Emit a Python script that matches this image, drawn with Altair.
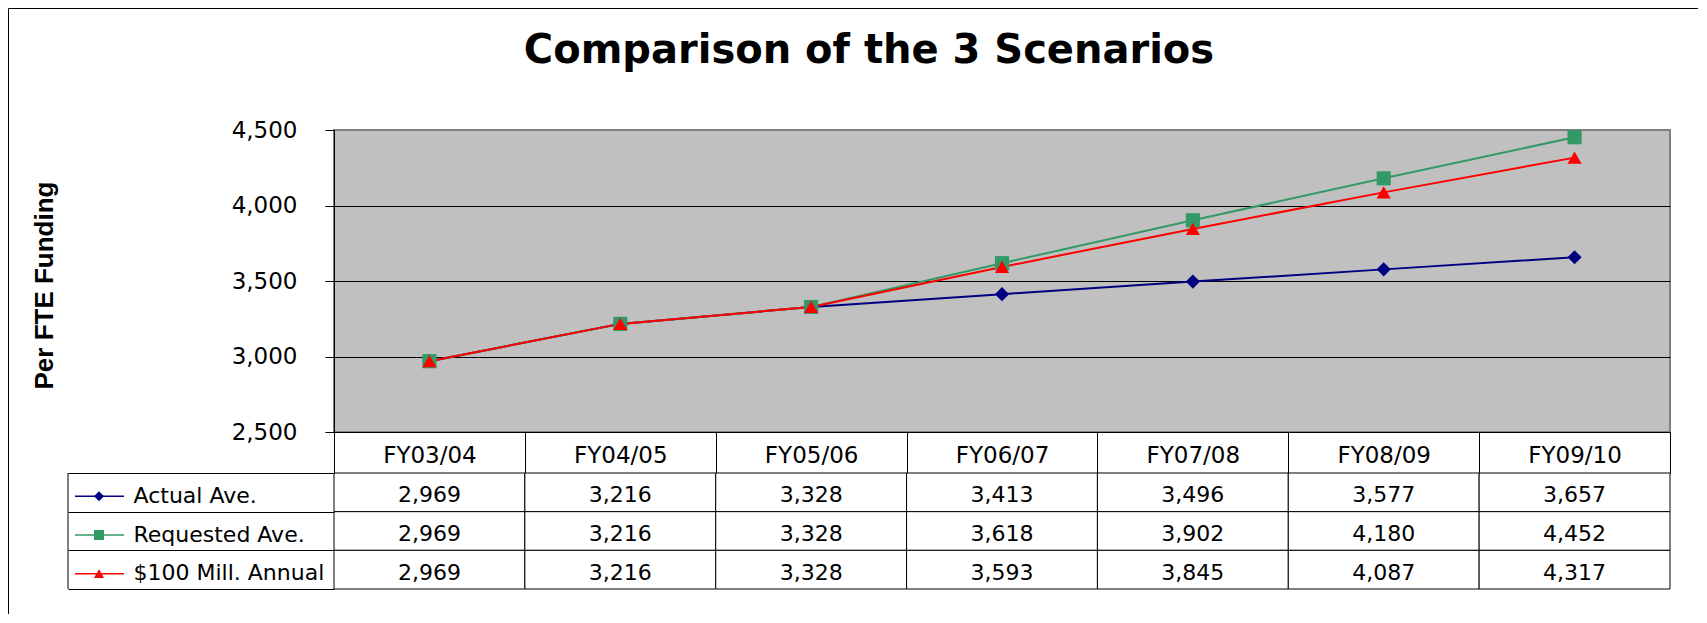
import altair as alt
import pandas as pd

# ---------------- data ----------------
CATEGORIES = ["FY03/04", "FY04/05", "FY05/06", "FY06/07", "FY07/08", "FY08/09", "FY09/10"]
SERIES = ["Actual Ave.", "Requested Ave.", "$100 Mill. Annual"]
ACTUAL = [2969, 3216, 3328, 3413, 3496, 3577, 3657]
REQUESTED = [2969, 3216, 3328, 3618, 3902, 4180, 4452]
MILL100 = [2969, 3216, 3328, 3593, 3845, 4087, 4317]
Y_TICKS = [2500, 3000, 3500, 4000, 4500]
TITLE = "Comparison of the 3 Scenarios"
Y_TITLE = "Per FTE Funding"

COLORS = ["#000080", "#339966", "#FF0000"]
SHAPES = ["diamond", "square", "triangle-up"]

rows = []
for s, vals in zip(SERIES, [ACTUAL, REQUESTED, MILL100]):
    for c, v in zip(CATEGORIES, vals):
        rows.append({"Year": c, "Series": s, "Value": v})
df = pd.DataFrame(rows)
series_df = pd.DataFrame({"Series": SERIES})
one_df = pd.DataFrame({"k": [0]})

# ---------------- layout (pixels) ----------------
PLOT_W, PLOT_H = 1336, 302
HEADER_H = 41
TABLE_H = 116
LEGEND_W = 266
# outer frame, relative to the table's origin
FRAME_X, FRAME_Y = -325.5, -464.5
FRAME_RIGHT, FRAME_BOTTOM = 1364, 141

color_scale = alt.Scale(domain=SERIES, range=COLORS)
shape_scale = alt.Scale(domain=SERIES, range=SHAPES)

# ---------------- top: line chart ----------------
x_axis_top = alt.Axis(
    title=None, orient="bottom", labelAngle=0,
    labelFont="DejaVu Sans", labelFontSize=23, labelColor="black",
    labelBaseline="alphabetic", labelPadding=-11,
    tickBand="extent", tickSize=HEADER_H, tickColor="black", tickWidth=1,
    domainColor="black", domainWidth=1, grid=False,
)
x_top = alt.X("Year:N", sort=CATEGORIES,
              scale=alt.Scale(type="band", paddingInner=0, paddingOuter=0),
              bandPosition=0.5, axis=x_axis_top)

y_axis_top = alt.Axis(
    values=Y_TICKS, format=",d",
    title=Y_TITLE, titleFont="Liberation Sans", titleFontSize=26,
    titleFontWeight="bold", titleColor="black", titleAngle=270,
    titleX=-282, titleY=155, titleBaseline="alphabetic",
    labelFont="DejaVu Sans", labelFontSize=23, labelColor="black",
    labelPadding=28, tickSize=9, tickColor="black", tickWidth=1,
    domainColor="black", domainWidth=1,
    grid=True, gridWidth=1,
    gridColor={"condition": {"test": "datum.value === 4500", "value": "#808080"}, "value": "black"},
)
y_top = alt.Y("Value:Q", scale=alt.Scale(domain=[2500, 4500], nice=False, zero=False),
              axis=y_axis_top)

color_enc = alt.Color("Series:N", scale=color_scale, legend=None)
shape_enc = alt.Shape("Series:N", scale=shape_scale, legend=None)

lines = alt.Chart(df).mark_line(strokeWidth=2).encode(x=x_top, y=y_top, color=color_enc)
points = alt.Chart(df).mark_point(filled=True, size=200, opacity=1).encode(
    x=x_top, y=y_top, color=color_enc, shape=shape_enc)

top = alt.layer(lines, points).properties(
    width=PLOT_W, height=PLOT_H,
    view=alt.ViewBackground(fill="#C0C0C0", stroke="#808080", strokeWidth=2),
    title=alt.TitleParams(
        text=TITLE, font="DejaVu Sans", fontSize=40, fontWeight="bold",
        color="black", anchor="middle", frame="group",
        baseline="alphabetic", offset=16, dx=-133,
    ),
)

# ---------------- bottom: data table ----------------
y_axis_bot = alt.Axis(
    title=None, orient="left",
    labelFont="DejaVu Sans", labelFontSize=22, labelColor="black",
    labelAlign="left", labelPadding=-65, labelOffset=3, labelLimit=400,
    tickBand="extent", tickSize=LEGEND_W, tickColor="black", tickWidth=1,
    domain=False, grid=False,
)
band = alt.Scale(paddingInner=0, paddingOuter=0)
x_bot = alt.X("Year:N", sort=CATEGORIES, scale=band, axis=None)
y_bot = alt.Y("Series:N", sort=SERIES, scale=band, axis=y_axis_bot)

cells = alt.Chart(df).mark_rect(fill="white", stroke="black", strokeWidth=1).encode(
    x=x_bot, y=y_bot)
values = alt.Chart(df).mark_text(font="DejaVu Sans", fontSize=22, color="black", dy=3).encode(
    x=x_bot, y=y_bot, text=alt.Text("Value:Q", format=",d"))
key_lines = alt.Chart(series_df).mark_rule(strokeWidth=1.5, yOffset=4).encode(
    x=alt.value(-259), x2=alt.value(-210), y=y_bot, color=color_enc)
key_points = alt.Chart(series_df).mark_point(filled=True, size=100, opacity=1, yOffset=4).encode(
    x=alt.value(-235), y=y_bot, color=color_enc, shape=shape_enc)
left_edge = alt.Chart(one_df).mark_rule(color="black", strokeWidth=1).encode(
    x=alt.value(-LEGEND_W), y=alt.value(0), y2=alt.value(TABLE_H))
frame_top = alt.Chart(one_df).mark_rule(color="black", strokeWidth=1).encode(
    x=alt.value(FRAME_X), x2=alt.value(FRAME_RIGHT), y=alt.value(FRAME_Y))
frame_left = alt.Chart(one_df).mark_rule(color="black", strokeWidth=1).encode(
    x=alt.value(FRAME_X), y=alt.value(FRAME_Y), y2=alt.value(FRAME_BOTTOM))

bottom = alt.layer(frame_top, frame_left, cells, values, key_lines, key_points, left_edge).properties(
    width=PLOT_W, height=TABLE_H)

chart = alt.vconcat(top, bottom, spacing=HEADER_H, bounds="flush").properties(
    padding=0, background="white"
).configure_view(strokeWidth=0)

chart.save("out.html", embed_options={"renderer": "svg", "actions": False})
